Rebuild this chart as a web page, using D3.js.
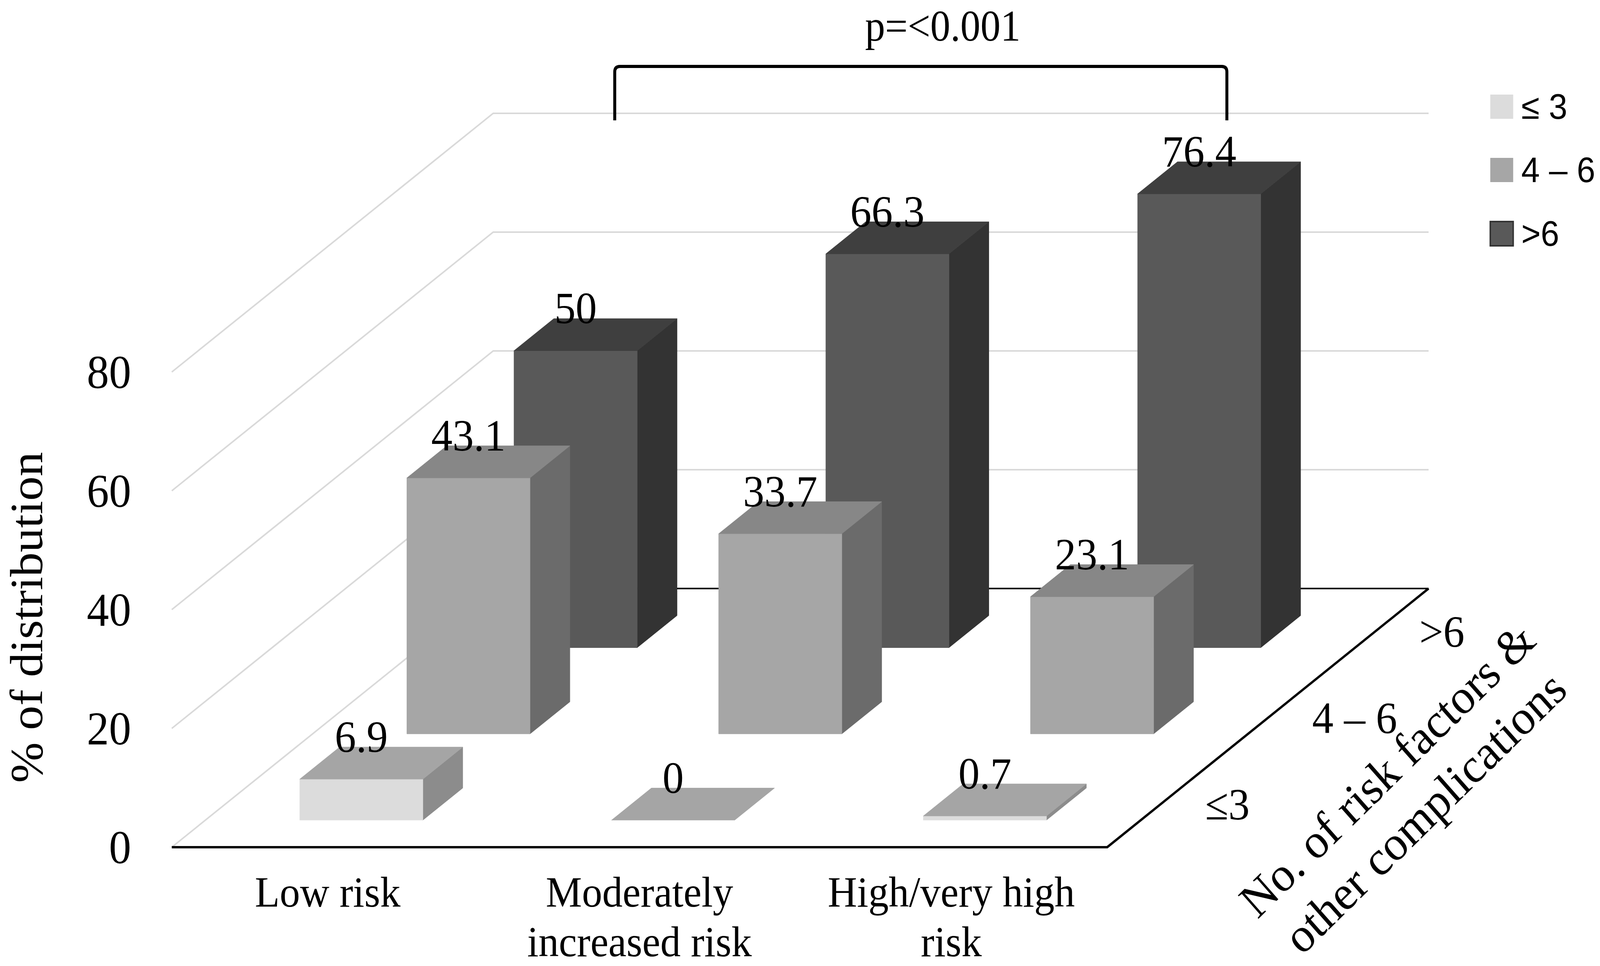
<!DOCTYPE html>
<html>
<head>
<meta charset="utf-8">
<script src="https://cdn.jsdelivr.net/npm/d3@7"></script>
<style>
  html, body { margin: 0; padding: 0; background: #fff; overflow: hidden; }
  svg { display: block; }
</style>
</head>
<body>
<div class="chart"></div>
<script>

// data
const categories = ["Low risk", "Moderately increased risk", "High/very high risk"];
const categoryLines = [["Low risk"], ["Moderately", "increased risk"], ["High/very high", "risk"]];
const series = ["≤ 3", "4 – 6", ">6"];
const depthLabels = ["≤3", "4 – 6", ">6"];
const valuesLow = [6.9, 0, 0.7];      // ≤ 3
const valuesMid = [43.1, 33.7, 23.1]; // 4 – 6
const valuesHigh = [50, 66.3, 76.4];  // >6
const yTicks = [0, 20, 40, 60, 80];
const pText = "p=<0.001";
const yTitle = "% of distribution";
const depthTitle = ["No. of risk factors &", "other complications"];

const seriesValues = [valuesLow, valuesMid, valuesHigh];

const W = 4331, H = 2472;

// drawn in 4331x2472 units, stretched to whatever the viewport is
const svg = d3.select(".chart")
    .append("svg")
    .attr("width", window.innerWidth)
    .attr("height", window.innerHeight)
    .attr("viewBox", `0 0 ${W} ${H}`)
    .attr("preserveAspectRatio", "none");

svg.append("rect").attr("width", W).attr("height", H).attr("fill", "#fff");

// 3d frame (oblique projection)
const x0 = 465, x1 = 2997;
const DX = 870, DY = -662;

const x = d3.scaleBand()
    .domain(categories)
    .range([x0, x1]);

const y = d3.scaleLinear()
    .domain([0, 80])
    .range([2168, 952]);

const depth = d3.scalePoint()
    .domain(series)
    .range([0, 1])
    .padding(0.5);

const barW = x.bandwidth() * 0.395;
const halfDepth = 0.062;

const P = (px, f, v) => [px + f * DX, y(v) + f * DY];

const fills = {
    "≤ 3":   {front: "#dcdcdc", top: "#a5a5a5", side: "#8c8c8c"},
    "4 – 6": {front: "#a6a6a6", top: "#878787", side: "#6b6b6b"},
    ">6":    {front: "#595959", top: "#3f3f3f", side: "#333333"}
};

const serif = "'Liberation Serif', 'Times New Roman', serif";
const sans = "'Liberation Sans', Arial, sans-serif";

// gridlines: left wall and back wall
const grid = svg.append("g")
    .attr("stroke", "#d9d9d9")
    .attr("stroke-width", 4)
    .attr("fill", "none");

grid.selectAll(".wall")
    .data(yTicks)
    .enter()
    .append("path")
    .attr("d", v => d3.line()([P(x0, 0, v), P(x0, 1, v), P(x1, 1, v)]));

// floor edges
const floor = svg.append("g")
    .attr("stroke", "#000")
    .attr("fill", "none")
    .attr("stroke-linejoin", "round");

floor.append("path")
    .attr("stroke-width", 4)
    .attr("d", d3.line()([P(x0, 1, 0), P(x1, 1, 0)]));

floor.append("path")
    .attr("stroke-width", 6)
    .attr("d", d3.line()([P(x0, 0, 0), P(x1, 0, 0), P(x1, 1, 0)]));

// bars, back row first
const bars = svg.append("g");
const labelData = [];

series.slice().reverse().forEach(s => {

    const si = series.indexOf(s);
    const col = fills[s];
    const fc = depth(s);
    const f0 = fc - halfDepth, f1 = fc + halfDepth;

    categories.forEach((c, ci) => {

        const v = seriesValues[si][ci];
        const bx0 = x(c) + (x.bandwidth() - barW) / 2;
        const bx1 = bx0 + barW;
        const g = bars.append("g");

        if(v > 0){

            g.append("path")
                .attr("d", d3.line()([P(bx1, f0, v), P(bx1, f1, v), P(bx1, f1, 0), P(bx1, f0, 0)]) + "Z")
                .attr("fill", col.side)
                .attr("stroke", col.side)
                .attr("stroke-width", 1);

            g.append("path")
                .attr("d", d3.line()([P(bx0, f0, v), P(bx1, f0, v), P(bx1, f0, 0), P(bx0, f0, 0)]) + "Z")
                .attr("fill", col.front)
                .attr("stroke", col.front)
                .attr("stroke-width", 1);
        }

        g.append("path")
            .attr("d", d3.line()([P(bx0, f0, v), P(bx1, f0, v), P(bx1, f1, v), P(bx0, f1, v)]) + "Z")
            .attr("fill", v > 0 ? col.top : fills["≤ 3"].top)
            .attr("stroke", v > 0 ? col.top : fills["≤ 3"].top)
            .attr("stroke-width", 1);

        const fp = P((bx0 + bx1) / 2, f0, v);
        const bp = P((bx0 + bx1) / 2, f1, v);

        labelData.push({
            text: String(v),
            x: fp[0],
            y: bp[1] + 12
        });

    });

});

// value labels
svg.selectAll(".val")
    .data(labelData)
    .enter()
    .append("text")
    .attr("x", d => d.x)
    .attr("y", d => d.y)
    .attr("text-anchor", "middle")
    .style("font-family", serif)
    .style("font-size", "115px")
    .attr("fill", "#000")
    .text(d => d.text);

// y tick labels
svg.selectAll(".ytick")
    .data(yTicks)
    .enter()
    .append("text")
    .attr("x", 355)
    .attr("y", d => y(d))
    .attr("text-anchor", "end")
    .attr("dominant-baseline", "central")
    .style("font-family", serif)
    .style("font-size", "120px")
    .text(d => d);

// category labels
const cat = svg.selectAll(".cat")
    .data(categories)
    .enter()
    .append("text")
    .attr("text-anchor", "middle")
    .style("font-family", serif)
    .style("font-size", "110px");

cat.each(function(c, i){

    d3.select(this)
        .selectAll("tspan")
        .data(categoryLines[i])
        .enter()
        .append("tspan")
        .attr("x", x(c) + x.bandwidth() / 2)
        .attr("y", (d, j) => 2320 + j * 127)
        .text(d => d);

});

// depth tick labels
svg.selectAll(".dtick")
    .data(series)
    .enter()
    .append("text")
    .attr("x", d => P(x1, depth(d), 0)[0] + 120)
    .attr("y", d => P(x1, depth(d), 0)[1])
    .attr("dominant-baseline", "central")
    .style("font-family", serif)
    .style("font-size", "115px")
    .text((d, i) => depthLabels[i]);

// axis titles
svg.append("text")
    .attr("transform", "translate(72,1580) rotate(-90)")
    .attr("text-anchor", "middle")
    .attr("dominant-baseline", "central")
    .style("font-family", serif)
    .style("font-size", "125px")
    .text(yTitle);

svg.append("g")
    .attr("transform", "translate(3806,2024) rotate(-43)")
    .selectAll("text")
    .data(depthTitle)
    .enter()
    .append("text")
    .attr("x", 0)
    .attr("y", (d, i) => i === 0 ? -75 : 75)
    .attr("text-anchor", "middle")
    .attr("dominant-baseline", "central")
    .style("font-family", serif)
    .style("font-size", "125px")
    .text(d => d);

// significance bracket
const bL = 1664, bR = 3321, bTop = 170, bBot = 308, r = 14;

svg.append("path")
    .attr("d", `M${bL},${bBot} L${bL},${bTop + r} Q${bL},${bTop} ${bL + r},${bTop} L${bR - r},${bTop} Q${bR},${bTop} ${bR},${bTop + r} L${bR},${bBot}`)
    .attr("fill", "none")
    .attr("stroke", "#000")
    .attr("stroke-width", 8);

svg.append("text")
    .attr("x", 2552)
    .attr("y", 104)
    .attr("text-anchor", "middle")
    .attr("textLength", 421)
    .attr("lengthAdjust", "spacingAndGlyphs")
    .style("font-family", serif)
    .style("font-size", "112px")
    .text(pText);

// legend
const legend = svg.append("g")
    .selectAll("g")
    .data(series)
    .enter()
    .append("g")
    .attr("transform", (d, i) => `translate(4034,${[273, 435, 598][i]})`);

legend.append("rect")
    .attr("x", 0)
    .attr("y", -31)
    .attr("width", 62)
    .attr("height", 62)
    .attr("fill", d => d === ">6" ? "#595959" : fills[d].front)
    .attr("stroke", d => d === ">6" ? "#333" : "none")
    .attr("stroke-width", 4);

legend.append("text")
    .attr("x", 84)
    .attr("y", 0)
    .attr("dominant-baseline", "central")
    .style("font-family", sans)
    .style("font-size", "90px")
    .attr("fill", "#000")
    .text(d => d);

</script>
</body>
</html>
